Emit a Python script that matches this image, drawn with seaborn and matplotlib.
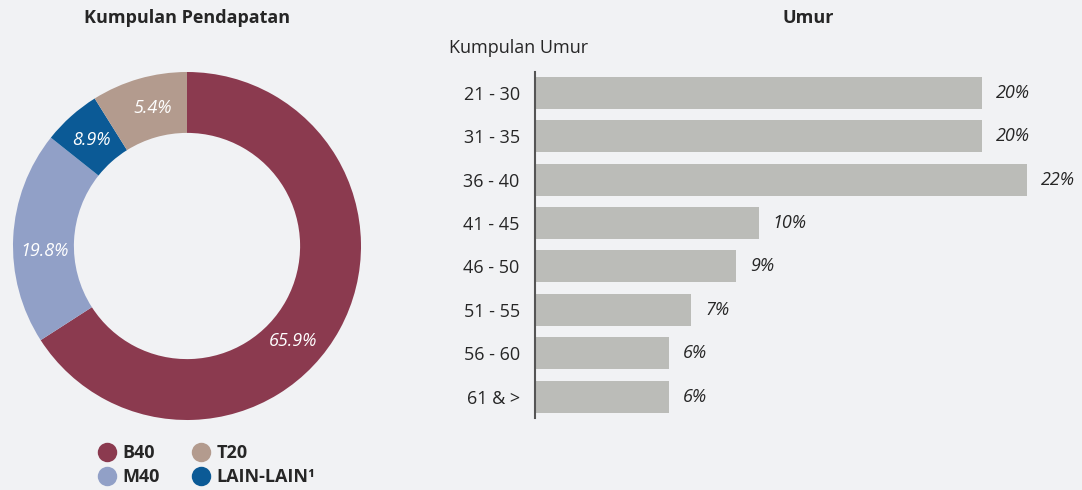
import numpy as np
import pandas as pd
import matplotlib.pyplot as plt
import seaborn as sns
from matplotlib.lines import Line2D

# income groups (donut), clockwise from the top
income_groups = ["B40", "M40", "LAIN-LAIN¹", "T20"]
wedge_share = [65.9, 19.8, 5.4, 8.9]          # slice sizes as drawn
income_labels = ["65.9%", "19.8%", "8.9%", "5.4%"]  # printed labels
income_colors = ["#8b3a4f", "#91a0c7", "#0b5a96", "#b39b8e"]
label_angles = [-42, 182, 132, 104]

# age groups (bars)
age_groups = ["21 - 30", "31 - 35", "36 - 40", "41 - 45", "46 - 50", "51 - 55", "56 - 60", "61 & >"]
age_share = [20, 20, 22, 10, 9, 7, 6, 6]

bg = "#f1f2f4"
txt = "#262626"

sns.set_theme(style="white")
plt.rcParams["font.family"] = ["Open Sans", "DejaVu Sans"]
plt.rcParams["text.color"] = txt

fig = plt.figure(figsize=(10.82, 4.9), dpi=100, facecolor=bg)

# donut
ax1 = fig.add_axes([13 / 1082, 70 / 490, 348 / 1082, 348 / 490])
ax1.set_facecolor(bg)
ax1.pie(
    wedge_share,
    colors=income_colors,
    startangle=90,
    counterclock=False,
    radius=1,
    wedgeprops=dict(width=0.35, linewidth=0),
)
for lab, ang in zip(income_labels, label_angles):
    a = np.deg2rad(ang)
    ax1.text(0.82 * np.cos(a), 0.82 * np.sin(a), lab, ha="center", va="center",
             color="white", fontsize=13, style="italic")
ax1.set_xlim(-1, 1)
ax1.set_ylim(-1, 1)
ax1.set_aspect("equal")
fig.text(187 / 1082, 1 - 18 / 490, "Kumpulan Pendapatan", ha="center", va="center",
         fontsize=13, fontweight="bold", color=txt)

# legend: B40 / M40 in first column, T20 / LAIN-LAIN in second
order = [0, 1, 3, 2]
handles = [Line2D([], [], marker="o", linestyle="", markersize=14,
                  markerfacecolor=income_colors[i], markeredgewidth=0) for i in order]
labels = [income_groups[i] for i in order]
leg = fig.legend(handles, labels, ncol=2, loc="center", bbox_to_anchor=(206 / 1082, 1 - 465 / 490),
                 frameon=False, fontsize=13, handletextpad=0.25, columnspacing=1.7,
                 labelspacing=0.35, handlelength=1.2)
for t in leg.get_texts():
    t.set_fontweight("bold")
    t.set_color(txt)

# bars
ax2 = fig.add_axes([535 / 1082, 72 / 490, 547 / 1082, 346 / 490])
ax2.set_facecolor(bg)
df = pd.DataFrame({"age": age_groups, "share": age_share})
sns.barplot(data=df, y="age", x="share", ax=ax2, color="#bbbcb8", width=0.737,
            saturation=1, orient="h", linewidth=0, edgecolor="none")
ax2.set_xlim(0, 24.47)
ax2.set_ylim(7.49, -0.48)
for i, v in enumerate(age_share):
    ax2.annotate(f"{v}%", (v, i), xytext=(10, 0), textcoords="offset points",
                 ha="left", va="center", fontsize=13, style="italic", color=txt)
ax2.set_xlabel("")
ax2.set_ylabel("")
ax2.set_xticks([])
ax2.tick_params(axis="y", length=0, pad=11, labelsize=13, labelcolor=txt)
for s in ["top", "right", "bottom"]:
    ax2.spines[s].set_visible(False)
ax2.spines["left"].set_color("#555555")
ax2.spines["left"].set_linewidth(1.5)
fig.text(808 / 1082, 1 - 18 / 490, "Umur", ha="center", va="center",
         fontsize=13, fontweight="bold", color=txt)
fig.text(449 / 1082, 1 - 48 / 490, "Kumpulan Umur", ha="left", va="center",
         fontsize=13, color=txt)

fig.savefig("out.png", dpi=100, facecolor=bg)
